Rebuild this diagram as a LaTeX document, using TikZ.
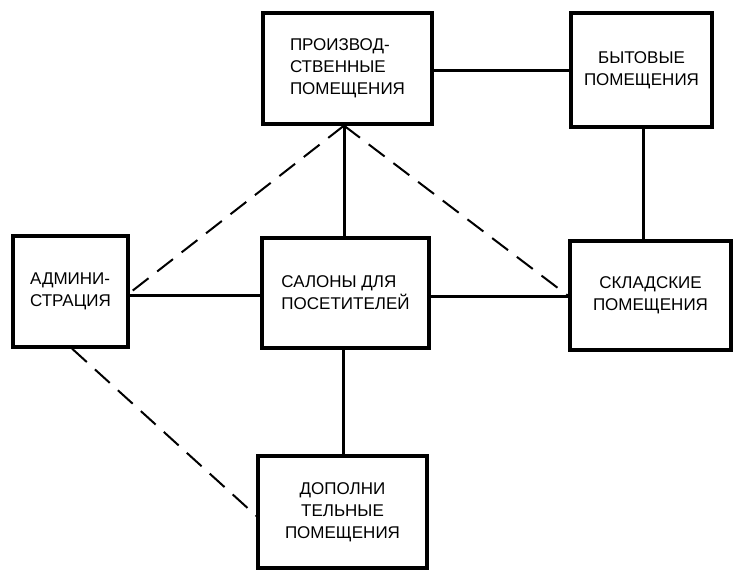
\documentclass[tikz,border=0pt]{standalone}
\usepackage{fontspec}
\setmainfont{Liberation Sans}
\begin{document}
\begin{tikzpicture}[x=1pt,y=-1pt,
  box/.style={draw,line width=3.2pt,inner sep=0pt,font=\fontsize{17}{22}\selectfont},
  conn/.style={line width=3pt},
  dconn/.style={line width=2pt,dash pattern=on 20pt off 11pt}]
\useasboundingbox (0,0) rectangle (734,570);
\node[box,minimum width=169pt,minimum height=111pt,align=left] (B1) at (347.5,68.5) {ПРОИЗВОД-\\СТВЕННЫЕ\\ПОМЕЩЕНИЯ};
\node[box,minimum width=141pt,minimum height=114pt,align=center] (B2) at (641.5,70) {БЫТОВЫЕ\\ПОМЕЩЕНИЯ};
\node[box,minimum width=115pt,minimum height=111pt,align=left] (B3) at (70.5,291.5) {АДМИНИ-\\СТРАЦИЯ};
\node[box,minimum width=167pt,minimum height=110pt,align=left] (B4) at (345.5,293) {САЛОНЫ ДЛЯ\\ПОСЕТИТЕЛЕЙ};
\node[box,minimum width=161pt,minimum height=109pt,align=center] (B5) at (650.5,295.5) {СКЛАДСКИЕ\\ПОМЕЩЕНИЯ};
\node[box,minimum width=169pt,minimum height=112pt,align=center] (B6) at (342.5,512) {ДОПОЛНИ\\ТЕЛЬНЫЕ\\ПОМЕЩЕНИЯ};
\coordinate (c12) at (B1.east |- 0,70);
\coordinate (c25) at (643,0);
\coordinate (c41) at (344,0);
\coordinate (c46) at (343,0);
\draw[conn] (B1.east |- c12) -- (B2.west |- c12);
\draw[conn] (B2.south -| c25) -- (B5.north -| c25);
\draw[conn] (B3.east |- 0,295) -- (B4.west |- 0,295);
\draw[conn] (B4.east |- 0,296) -- (B5.west |- 0,296);
\draw[conn] (B4.north -| c41) -- (B1.south -| c41);
\draw[conn] (B4.south -| c46) -- (B6.north -| c46);
\draw[dconn] (B1.south -| c41) -- (B3.east |- 0,293);
\draw[dconn] (B1.south -| c41) -- (B5.west |- 0,296);
\draw[dconn] (B3.south -| 72,0) -- (B6.west |- 0,516);
\end{tikzpicture}
\end{document}
